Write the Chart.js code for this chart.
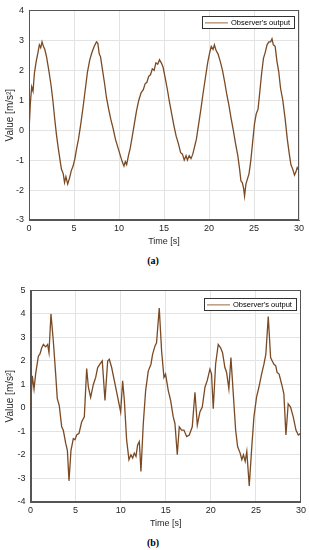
<!DOCTYPE html>
<html>
<head>
<meta charset="utf-8">
<script src="https://cdn.jsdelivr.net/npm/chart.js@4.4.1/dist/chart.umd.min.js"></script>
<style>
  body { margin: 0; background: #fff; width: 309px; height: 550px; position: relative; overflow: hidden; }
  .box { position: absolute; left: 0; width: 309px; }
  .cap { position: absolute; left: 0; width: 306px; text-align: center; font: bold 10px "Liberation Serif", serif; color: #000; }
</style>
</head>
<body>
<div class="box" style="top:0; height:250px;"><canvas id="chartA"></canvas></div>
<div class="cap" style="top:255px;">(a)</div>
<div class="box" style="top:280px; height:252px;"><canvas id="chartB"></canvas></div>
<div class="cap" style="top:537px;">(b)</div>
<script>
// (a) tiempo [s] y valor
const timeA = [
  0, 0.15, 0.3, 0.45, 0.6, 0.8, 1.0, 1.15, 1.3, 1.45,
  1.6, 1.75, 1.95, 2.2, 2.45, 2.65, 2.85, 3.05, 3.25, 3.45,
  3.6, 3.8, 3.95, 4.1, 4.3, 4.5, 4.7, 4.9, 5.1, 5.3,
  5.5, 5.75, 6.0, 6.25, 6.5, 6.75, 7.0, 7.25, 7.5, 7.65,
  7.8, 7.95, 8.15, 8.4, 8.6, 8.85, 9.1, 9.35, 9.6, 9.85,
  10.1, 10.35, 10.55, 10.7, 10.85, 11.05, 11.25, 11.45, 11.7, 11.95,
  12.2, 12.45, 12.7, 12.9, 13.1, 13.3, 13.5, 13.7, 13.9, 14.1,
  14.3, 14.5, 14.7, 14.9, 15.1, 15.35, 15.6, 15.85, 16.1, 16.35,
  16.6, 16.85, 17.05, 17.25, 17.45, 17.6, 17.8, 18.0, 18.2, 18.4,
  18.6, 18.85, 19.1, 19.35, 19.6, 19.85, 20.05, 20.25, 20.45, 20.6,
  20.8, 21.0, 21.25, 21.5, 21.75, 22.0, 22.2, 22.45, 22.7, 22.95,
  23.2, 23.4, 23.55, 23.7, 23.85, 23.95, 24.1, 24.25, 24.45, 24.65,
  24.85, 25.05, 25.25, 25.45, 25.65, 25.85, 26.05, 26.25, 26.45, 26.65,
  26.85, 27.0, 27.15, 27.35, 27.55, 27.75, 27.95, 28.2, 28.45, 28.7,
  28.9, 29.1, 29.3, 29.5, 29.65, 29.8, 30.0
];
const valueA = [
  -0.05, 0.9, 1.45, 1.3, 1.9, 2.3, 2.6, 2.85, 2.75, 2.95,
  2.8, 2.7, 2.45, 2.0, 1.5, 1.0, 0.4, -0.15, -0.6, -1.0,
  -1.3, -1.45, -1.75, -1.55, -1.8, -1.6, -1.35, -1.2, -0.95, -0.6,
  -0.3, 0.2, 0.75, 1.35, 1.95, 2.35, 2.6, 2.8, 2.95, 2.9,
  2.55, 2.45, 2.05, 1.55, 1.1, 0.7, 0.35, 0.05, -0.3, -0.55,
  -0.8, -1.05, -1.2, -1.05, -1.15, -0.85, -0.6, -0.25, 0.2, 0.65,
  1.0, 1.25, 1.35, 1.55, 1.6, 1.8, 1.85, 2.05, 2.0, 2.25,
  2.2, 2.35, 2.25, 2.1, 1.8, 1.4, 0.95, 0.55, 0.15, -0.2,
  -0.45, -0.75, -0.8, -1.0, -0.85, -1.0, -0.85, -0.95, -0.8, -0.55,
  -0.3, 0.2, 0.7, 1.25, 1.75, 2.25, 2.55, 2.8, 2.7, 2.85,
  2.65, 2.55, 2.3, 2.0, 1.6, 1.15, 0.85, 0.4, 0.0, -0.45,
  -0.85, -1.3, -1.7, -1.75, -1.95, -2.2, -1.8, -1.65, -1.45, -1.0,
  -0.4, 0.2, 0.55, 0.7, 1.3, 1.9, 2.4, 2.6, 2.85, 2.95,
  2.95, 3.05, 2.85, 2.8, 2.3, 1.95, 1.4, 1.0, 0.4, -0.3,
  -0.75, -1.15, -1.3, -1.5, -1.4, -1.25, -1.35
];

// (b)
const timeB = [
  0, 0.2, 0.39, 0.57, 0.87, 1.05, 1.24, 1.43, 1.68, 1.9,
  2.05, 2.27, 2.53, 2.79, 2.97, 3.19, 3.46, 3.64, 3.9, 4.09,
  4.27, 4.49, 4.75, 4.93, 5.12, 5.38, 5.67, 5.97, 6.23, 6.42,
  6.67, 6.97, 7.23, 7.45, 7.7, 7.96, 8.26, 8.56, 8.74, 9.0,
  9.37, 9.74, 10.0, 10.22, 10.41, 10.66, 10.92, 11.14, 11.33, 11.51,
  11.7, 11.88, 12.07, 12.25, 12.51, 12.77, 13.06, 13.36, 13.54, 13.8,
  13.98, 14.28, 14.54, 14.8, 14.98, 15.28, 15.54, 15.83, 16.02, 16.28,
  16.5, 16.76, 17.02, 17.32, 17.61, 17.94, 18.24, 18.5, 18.79, 19.05,
  19.35, 19.6, 19.9, 20.08, 20.27, 20.53, 20.82, 21.08, 21.3, 21.56,
  21.75, 22.0, 22.23, 22.49, 22.75, 22.97, 23.25, 23.44, 23.62, 23.81,
  23.99, 24.26, 24.52, 24.78, 25.07, 25.33, 25.63, 25.89, 26.1, 26.37,
  26.63, 26.81, 27.0, 27.2, 27.35, 27.57, 27.85, 28.1, 28.33, 28.58,
  28.84, 29.14, 29.44, 29.7, 29.96, 30.0
];
const valueB = [
  0.0, 1.37, 0.8, 1.45, 2.2, 2.3, 2.55, 2.7, 2.6, 2.7,
  2.35, 4.0, 2.85, 1.45, 0.4, 0.1, -0.8, -0.95, -1.5, -1.8,
  -3.1, -1.8, -1.3, -1.35, -1.15, -1.08, -0.6, -0.38, 1.68, 0.88,
  0.45, 1.0, 1.3, 1.72, 1.86, 2.0, 0.32, 2.0, 2.07, 1.72,
  1.02, 0.32, -0.17, 1.16, 0.32, -1.36, -2.2, -1.99, -2.13, -1.92,
  -2.06, -1.57, -1.43, -2.7, -0.66, 0.74, 1.57, 1.86, 2.28, 2.63,
  2.77, 4.25, 2.42, 1.3, 1.44, 0.74, 0.32, -0.38, -0.66, -1.99,
  -0.8, -0.94, -0.94, -1.22, -1.15, -0.8, 0.67, -0.73, -0.17, 0.04,
  0.88, 1.16, 1.65, 1.44, -0.03, 1.86, 2.7, 2.56, 2.35, 1.72,
  1.51, 0.81, 2.14, 0.6, -0.94, -1.64, -1.92, -2.2, -1.99, -2.27,
  -1.85, -3.32, -1.78, -0.38, 0.46, 0.88, 1.44, 1.86, 2.28, 3.89,
  2.14, 2.0, 1.86, 1.79, 1.51, 1.44, 1.02, 0.6, -1.15, 0.18,
  0.04, -0.38, -0.94, -1.15, -1.08, -1.15
];

const seriesLabel = "Observer's output";
const xTitle = "Time [s]";
const yTitle = "Value [m/s\u00B2]";
const lineColor = "#7a4a24";
const axisColor = "#262626";

// marco + leyenda estilo MATLAB
const frameLegend = {
    id: "frameLegend",
    afterDraw(chart, args, opts) {
        const { ctx, chartArea: a } = chart;
        ctx.save();
        ctx.strokeStyle = "#555";
        ctx.lineWidth = 1;
        ctx.strokeRect(Math.round(a.left) + 0.5, Math.round(a.top) + 0.5,
            Math.round(a.right - a.left) - 1, Math.round(a.bottom - a.top) - 1);

        // caja de leyenda
        const w = 92, h = 12;
        const x = a.right - 5 - w, y = a.top + opts.top;
        ctx.fillStyle = "#fff";
        ctx.fillRect(x, y, w, h);
        ctx.strokeStyle = "#333";
        ctx.strokeRect(Math.round(x) + 0.5, Math.round(y) + 0.5, w, h);
        ctx.strokeStyle = "#9a6a3c";
        ctx.beginPath();
        ctx.moveTo(x + 3, y + h / 2 + 0.5);
        ctx.lineTo(x + 26, y + h / 2 + 0.5);
        ctx.stroke();
        ctx.fillStyle = "#000";
        ctx.font = "7.5px 'Liberation Sans', Arial, sans-serif";
        ctx.textBaseline = "middle";
        ctx.fillText(chart.data.datasets[0].label, x + 29, y + h / 2 + 0.5);
        ctx.restore();
    },
};

function makeChart(id, times, values, yMin, yMax, yWidth, pad, legendTop) {
    const font = { family: "'Liberation Sans', Arial, sans-serif", size: 9 };
    const titleFont = { family: "'Liberation Sans', Arial, sans-serif", size: 10 };
    return new Chart(document.getElementById(id), {
        type: "line",
        data: {
            datasets: [{
                label: seriesLabel,
                data: times.map((t, i) => ({ x: t, y: values[i] })),
                borderColor: lineColor,
                borderWidth: 1.3,
                pointRadius: 0,
                tension: 0,
                fill: false,
            }],
        },
        options: {
            responsive: true,
            maintainAspectRatio: false,
            animation: false,
            layout: { padding: pad },
            plugins: {
                legend: { display: false },
                tooltip: { enabled: false },
                frameLegend: { top: legendTop },
            },
            scales: {
                x: {
                    type: "linear",
                    min: 0,
                    max: 30,
                    afterFit: (s) => { s.height = 30; },
                    ticks: { stepSize: 5, color: axisColor, font: font, padding: 3, maxRotation: 0 },
                    grid: { color: "#e3e3e3", drawTicks: false },
                    border: { color: "#555" },
                    title: { display: true, text: xTitle, color: axisColor, font: font, padding: { top: 0, bottom: 3 } },
                },
                y: {
                    min: yMin,
                    max: yMax,
                    afterFit: (s) => { s.width = yWidth; },
                    ticks: { stepSize: 1, color: axisColor, font: font, padding: 5 },
                    grid: { color: "#e3e3e3", drawTicks: false },
                    border: { color: "#555" },
                    title: { display: true, text: yTitle, color: axisColor, font: titleFont, padding: { top: 4, bottom: 0 } },
                },
            },
        },
        plugins: [frameLegend],
    });
}

makeChart("chartA", timeA, valueA, -3, 4, 29, { top: 6, right: 10, left: 0, bottom: 0 }, 6);
makeChart("chartB", timeB, valueB, -4, 5, 30.5, { top: 8, right: 8, left: 0, bottom: 0 }, 8);
</script>
</body>
</html>
